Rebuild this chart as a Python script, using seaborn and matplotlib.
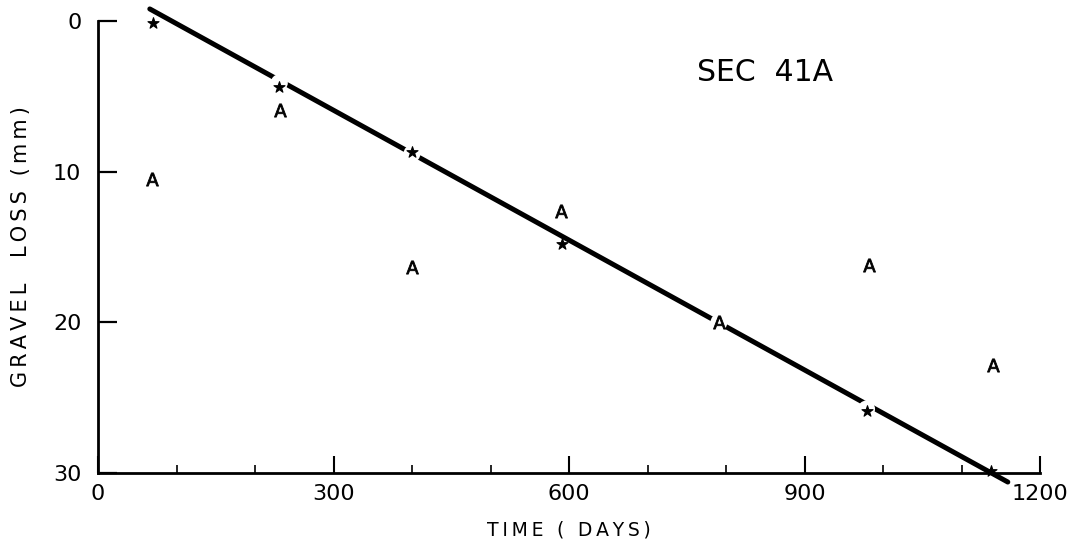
import matplotlib
matplotlib.use("Agg")
import matplotlib.pyplot as plt
import seaborn as sns
import pandas as pd
import numpy as np

# ---- data ----
star_days = [70, 231, 400, 591, 979, 1137]
star_loss = [0.1, 4.4, 8.7, 14.8, 25.9, 29.9]
a_days = [69, 232, 400, 590, 791, 982, 1140]
a_loss = [10.5, 5.9, 16.3, 12.6, 19.95, 16.2, 22.8]
fit_days = [66, 1159]
fit_loss = [-0.8, 30.6]
gap_days = [231, 400, 791, 979]          # where the fitted line is broken
gap_loss = [4.1, 8.8, 20.0, 25.75]
x_ticks = [0, 300, 600, 900, 1200]
x_minor = [100, 200, 400, 500, 700, 800, 1000, 1100]
y_ticks = [0, 10, 20, 30]
title_text = "SEC  41A"
x_label = "TIME ( DAYS)"
y_label = "GRAVEL  LOSS (mm)"

sns.set_theme(style="white")
plt.rcParams['font.family'] = ['DejaVu Sans']

THIN = "\u2009"
def spaced(s):
    return THIN.join(list(s))

fig = plt.figure(figsize=(10.85, 5.53), dpi=100)
ax = fig.add_axes([98/1085, 1-473/553, (1040-98)/1085, (473-21)/553])

fit_df = pd.DataFrame({"days": fit_days, "loss": fit_loss})
sns.lineplot(data=fit_df, x="days", y="loss", ax=ax, color="black",
             linewidth=3.6, clip_on=False, zorder=2, solid_capstyle="round")

gap_df = pd.DataFrame({"days": gap_days, "loss": gap_loss})
sns.scatterplot(data=gap_df, x="days", y="loss", ax=ax, marker="o", s=150,
                color="white", edgecolor="none", zorder=3, clip_on=False)

star_df = pd.DataFrame({"days": star_days, "loss": star_loss})
sns.scatterplot(data=star_df, x="days", y="loss", ax=ax, marker="*", s=70,
                color="black", edgecolor="black", linewidth=0.8, zorder=4, clip_on=False)

a_df = pd.DataFrame({"days": a_days, "loss": a_loss})
sns.scatterplot(data=a_df, x="days", y="loss", ax=ax, marker=r"$\mathsf{A}$", s=90,
                color="black", edgecolor="black", linewidth=0.6, zorder=4, clip_on=False)

ax.set_xlim(0, 1200)
ax.set_ylim(30, 0)
ax.set_xticks(x_ticks)
ax.set_xticks(x_minor, minor=True)
ax.set_yticks(y_ticks)
ax.set_xticklabels([str(v) for v in x_ticks], fontsize=16)
ax.set_yticklabels([str(v) for v in y_ticks], fontsize=16)

for s in ["top", "right"]:
    ax.spines[s].set_visible(False)
for s in ["left", "bottom"]:
    ax.spines[s].set_linewidth(2.0)
    ax.spines[s].set_color("black")

ax.tick_params(axis="y", which="major", left=True, direction="in", length=14,
               width=1.6, pad=12, colors="black")
ax.tick_params(axis="x", which="major", bottom=True, direction="in", length=12,
               width=1.5, pad=8, colors="black")
ax.tick_params(axis="x", which="minor", bottom=True, direction="in", length=6,
               width=1.2, colors="black")

ax.set_xlabel(spaced(x_label), fontsize=13.5, labelpad=12, color="black")
ax.set_ylabel(spaced(y_label), fontsize=15, labelpad=16, color="black")

ax.text(850, 3.4, title_text, fontsize=21.5, ha="center", va="center",
        color="black")
ax.grid(False)
ax.set_facecolor("white")
fig.patch.set_facecolor("white")

fig.savefig("out.png", dpi=100)
